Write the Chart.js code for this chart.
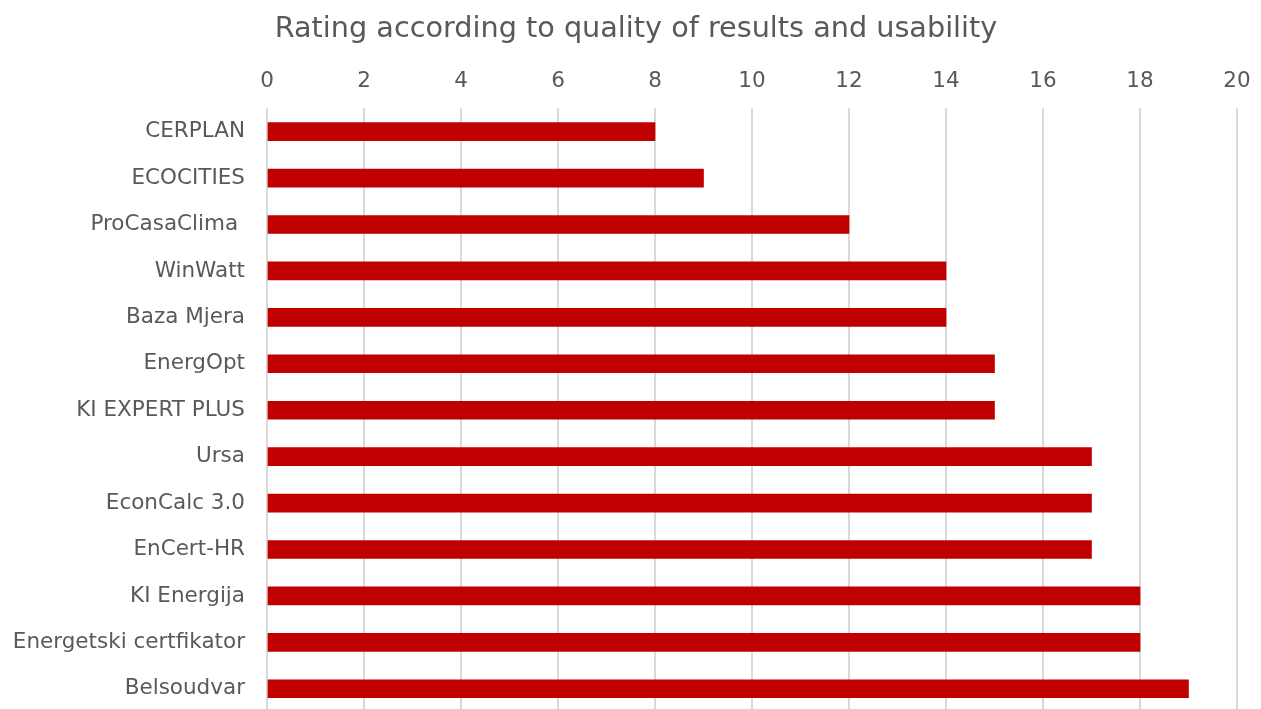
<!DOCTYPE html>
<html>
<head>
<meta charset="utf-8">
<script src="https://cdn.jsdelivr.net/npm/chart.js@4/dist/chart.umd.min.js"></script>
<style>
  html,body{margin:0;padding:0;background:#fff;overflow:hidden;}
  #wrap{width:1261px;height:712px;}
</style>
</head>
<body>
<div id="wrap"><canvas id="myChart" width="1261" height="712"></canvas></div>
<script>
// data
const categories=["CERPLAN","ECOCITIES","ProCasaClima ","WinWatt","Baza Mjera","EnergOpt","KI EXPERT PLUS","Ursa","EconCalc 3.0","EnCert-HR","KI Energija","Energetski certfikator","Belsoudvar"];
const ratings=[8,9,12,14,14,15,15,17,17,17,18,18,19];
const xTicks=[0,2,4,6,8,10,12,14,16,18,20];

const fontName="'DejaVu Sans', sans-serif";
const grey="#595959";

let ctx=document.querySelector("#myChart").getContext("2d");
var chart=new Chart(ctx,{
  type:"bar",
  data:{
    labels:categories,
    datasets:[{
      label:"Rating",
      data:ratings,
      backgroundColor:"#C00000",
      borderWidth:0,
      barThickness:18
    }]
  },
  options:{
    indexAxis:"y",
    responsive:false,
    animation:false,
    layout:{padding:{left:11,right:0,top:0,bottom:0}},
    plugins:{
      legend:{display:false},
      tooltip:{enabled:false},
      title:{
        display:true,
        text:"Rating according to quality of results and usability",
        color:grey,
        font:{family:fontName,size:28.7,weight:"normal"},
        padding:{top:12,bottom:0}
      }
    },
    scales:{
      x:{
        position:"top",
        min:0,max:20,
        afterBuildTicks:(s)=>{s.ticks=xTicks.map(v=>({value:v}));},
        afterFit:(s)=>{s.height=62;s.paddingLeft=0;s.paddingRight=24;},
        grid:{color:"#d9d9d9",lineWidth:2,tickLength:0,drawTicks:false},
        border:{display:false},
        ticks:{color:grey,font:{family:fontName,size:21.5},padding:14,maxRotation:0}
      },
      y:{
        afterFit:(s)=>{s.width=256;s.paddingTop=0;s.paddingBottom=0;},
        grid:{display:false,drawTicks:false},
        border:{display:false},
        ticks:{color:grey,font:{family:fontName,size:21.5},padding:22,autoSkip:false}
      }
    }
  }
});
</script>
</body>
</html>
